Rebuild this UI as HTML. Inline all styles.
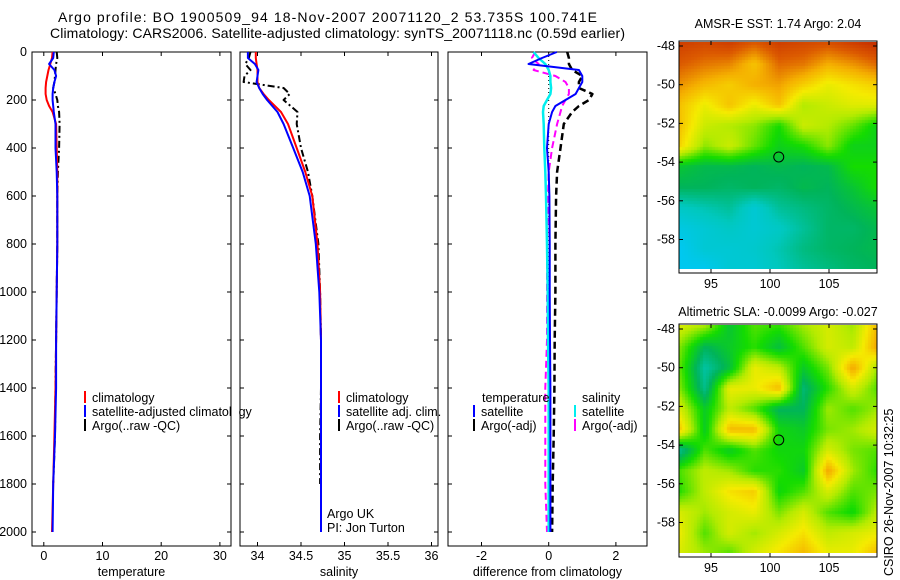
<!DOCTYPE html>
<html><head><meta charset="utf-8">
<style>
html,body{margin:0;padding:0;background:#fff;width:900px;height:580px;overflow:hidden}
svg{position:absolute;left:0;top:0}
canvas{position:absolute}
text{font-family:"Liberation Sans",sans-serif;font-size:12.5px;fill:#000}
</style></head>
<body>
<canvas id="map1" width="198" height="227" style="left:679px;top:42px"></canvas>
<canvas id="map2" width="198" height="228" style="left:679px;top:325px"></canvas>
<svg id="chart" width="900" height="580" xmlns="http://www.w3.org/2000/svg">
<text x="58" y="22" style="font-size:14px" textLength="539">Argo profile: BO 1900509_94 18-Nov-2007 20071120_2 53.735S 100.741E</text>
<text x="50" y="38" style="font-size:14px" textLength="575">Climatology: CARS2006. Satellite-adjusted climatology: synTS_20071118.nc (0.59d earlier)</text>
<text x="778" y="28" text-anchor="middle">AMSR-E SST: 1.74 Argo: 2.04</text>
<text x="778" y="316" text-anchor="middle">Altimetric SLA: -0.0099 Argo: -0.027</text>
<text transform="translate(893,576) rotate(-90)">CSIRO 26-Nov-2007 10:32:25</text>
<g id="g"></g>
</svg>
<script>
// ---- profile data ----
const depths=[0,25,50,75,100,125,150,175,200,225,250,300,400,500,600,800,1000,1200,1400,1600,1800,2000];
const tClim=[1.5,1.4,1.1,0.8,0.6,0.4,0.3,0.3,0.5,0.9,1.5,2.1,2.2,2.3,2.3,2.3,2.2,2.1,2.0,1.8,1.6,1.4];
const tSat=[1.7,1.6,0.9,1.8,2.1,1.8,1.6,1.5,1.5,1.6,1.7,2.0,2.0,2.2,2.3,2.3,2.2,2.1,2.1,1.9,1.6,1.5];
const tArgo=[2.2,2.3,2.1,2.0,1.9,1.8,1.6,2.0,2.3,2.4,2.6,2.7,2.6,2.4,2.3,2.3,2.2,2.1,2.0,1.9,1.6,1.4];
const sClim=[33.98,33.98,33.99,34.0,34.0,34.0,34.02,34.07,34.13,34.2,34.27,34.35,34.45,34.55,34.63,34.69,34.72,34.73,34.73,34.73,34.73,34.73];
const sSat=[33.89,33.89,33.97,34.01,34.0,33.99,34.02,34.06,34.11,34.17,34.23,34.3,34.41,34.52,34.6,34.67,34.71,34.73,34.73,34.73,34.73,34.73];
const sArgo=[33.92,33.9,33.86,33.92,33.85,33.84,34.3,34.37,34.3,34.38,34.46,34.45,34.5,34.58,34.63,34.7,34.72,34.73,34.73,34.72,34.72,34.72];
const dTsat=[0.24,-0.2,-0.6,0.9,1.0,1.0,0.9,0.8,0.5,0.2,0.1,0.0,-0.05,0.0,0.02,0.03,0.03,0.04,0.05,0.05,0.05,0.05];
const dTargo=[0.55,0.6,0.6,0.7,1.0,0.9,0.9,1.3,1.2,0.9,0.7,0.45,0.35,0.25,0.22,0.2,0.2,0.18,0.17,0.15,0.12,0.1];
const dSsat=[-0.45,-0.3,-0.1,0.0,0.05,0.05,0.07,0.05,-0.05,-0.15,-0.17,-0.15,-0.13,-0.1,-0.08,-0.05,-0.03,-0.02,0.0,0.0,0.0,0.0];
const dSargo=[-0.4,-0.5,-0.3,-0.45,0.2,0.5,0.6,0.6,0.5,0.4,0.35,0.25,0.1,0.0,-0.02,-0.05,-0.05,-0.05,-0.1,-0.1,-0.1,-0.05];
const depthTicks=[0,200,400,600,800,1000,1200,1400,1600,1800,2000];
const tTicks=[0,10,20,30];
const sTicks=[34,34.5,35,35.5,36];
const sTickLabels=["34","34.5","35","35.5","36"];
const dTicks=[-2,0,2];
// ---- map data (coarse grids, rows north->south, cols west->east) ----
const sstGrid=[
[0.91,0.90,0.91,0.88,0.91,0.90,0.89,0.91,0.93],
[0.88,0.86,0.85,0.80,0.87,0.86,0.82,0.84,0.87],
[0.84,0.81,0.79,0.82,0.83,0.79,0.75,0.77,0.79],
[0.80,0.75,0.80,0.75,0.80,0.70,0.72,0.74,0.74],
[0.80,0.72,0.70,0.68,0.62,0.72,0.70,0.66,0.60],
[0.78,0.68,0.72,0.66,0.60,0.62,0.68,0.60,0.60],
[0.58,0.56,0.56,0.55,0.56,0.55,0.56,0.62,0.62],
[0.55,0.55,0.54,0.55,0.54,0.56,0.55,0.58,0.62],
[0.46,0.48,0.50,0.44,0.50,0.52,0.54,0.56,0.58],
[0.42,0.44,0.46,0.44,0.46,0.50,0.54,0.54,0.56],
[0.40,0.44,0.44,0.45,0.48,0.52,0.54,0.55,0.56],
[0.40,0.40,0.44,0.44,0.47,0.50,0.52,0.54,0.55]];
const slaGrid=[
[0.73,0.69,0.58,0.65,0.63,0.69,0.73,0.69,0.81],
[0.67,0.55,0.59,0.63,0.57,0.65,0.73,0.71,0.83],
[0.65,0.49,0.57,0.75,0.71,0.59,0.67,0.83,0.69],
[0.67,0.51,0.75,0.75,0.81,0.53,0.63,0.73,0.65],
[0.73,0.59,0.71,0.65,0.55,0.55,0.69,0.65,0.69],
[0.79,0.59,0.81,0.81,0.61,0.59,0.67,0.69,0.73],
[0.51,0.65,0.59,0.65,0.61,0.61,0.73,0.67,0.65],
[0.65,0.71,0.69,0.63,0.63,0.59,0.83,0.69,0.63],
[0.63,0.71,0.77,0.79,0.61,0.65,0.73,0.65,0.67],
[0.73,0.69,0.73,0.75,0.67,0.73,0.65,0.61,0.71],
[0.75,0.65,0.73,0.69,0.73,0.77,0.71,0.73,0.75],
[0.73,0.69,0.65,0.73,0.77,0.81,0.75,0.75,0.81]];
const latTicks=[-48,-50,-52,-54,-56,-58];
const lonTicks=[95,100,105];
const argoLon=100.741, argoLat=-53.735;

const NS="http://www.w3.org/2000/svg";
const G=document.getElementById('g');
function el(tag,attrs,parent){const e=document.createElementNS(NS,tag);for(const k in attrs)e.setAttribute(k,attrs[k]);(parent||G).appendChild(e);return e;}
function txt(x,y,s,anchor,parent){const t=el('text',{x:x,y:y,'text-anchor':anchor||'start'},parent);t.textContent=s;return t;}

const yD=d=>52+0.24*d;
const panels=[
 {name:'temperature',x0:32,x1:231,sx:v=>43.8+5.87*v,ticks:tTicks,labels:tTicks.map(String),title:'temperature'},
 {name:'salinity',x0:240,x1:438,sx:v=>257.5+87*(v-34),ticks:sTicks,labels:sTickLabels,title:'salinity'},
 {name:'difference',x0:448,x1:647,sx:v=>548.7+33.6*v,ticks:dTicks,labels:dTicks.map(String),title:'difference from climatology'}];

function line(p,vals,color,w,dash,name,maxD){
  const pts=[];
  depths.forEach((d,i)=>{if(maxD===undefined||d<=maxD)pts.push(p.sx(vals[i]).toFixed(1)+','+yD(d).toFixed(1));});
  const a={points:pts.join(' '),fill:'none',stroke:color,'stroke-width':w,'stroke-linejoin':'round'};
  if(dash)a['stroke-dasharray']=dash;
  const e=el('polyline',a);
  
  
}

panels.forEach((p,pi)=>{
  const box=el('rect',{x:p.x0,y:52,width:p.x1-p.x0,height:494,fill:'#fff',stroke:'#000','stroke-width':1});
  
  
  depthTicks.forEach(d=>{
    el('line',{x1:p.x0,x2:p.x0+4,y1:yD(d),y2:yD(d),stroke:'#000'});
    el('line',{x1:p.x1-4,x2:p.x1,y1:yD(d),y2:yD(d),stroke:'#000'});
    if(pi===0){const t=txt(27,yD(d)+4,String(d),'end');
      
      }
  });
  p.ticks.forEach((v,i)=>{
    const x=p.sx(v);
    el('line',{x1:x,x2:x,y1:52,y2:56,stroke:'#000'});
    el('line',{x1:x,x2:x,y1:542,y2:546,stroke:'#000'});
    const t=txt(x,560,p.labels[i],'middle');
    
    
  });
  const at=txt((p.x0+p.x1)/2,576,p.title,'middle');
  
  
});
const [P1,P2,P3]=panels;
line(P1,tArgo,'#000',2,'7,3,2,3','temp-argo-line',1950);
line(P1,tClim,'#f00',2,null,'temp-climatology-line');
line(P1,tSat,'#00f',2,null,'temp-satellite-line');
line(P2,sArgo,'#000',2,'7,3,2,3','sal-argo-line',1950);
line(P2,sClim,'#f00',2,null,'sal-climatology-line');
line(P2,sSat,'#00f',2,null,'sal-satellite-line');
const z=el('line',{x1:P3.sx(0),x2:P3.sx(0),y1:yD(0),y2:yD(2000),stroke:'#000','stroke-width':1,'stroke-dasharray':'1,3'});


line(P3,dTargo,'#000',2.5,'7,4','diff-temp-argo-line');
line(P3,dSargo,'magenta',2,'7,4','diff-sal-argo-line');
line(P3,dSsat,'#0ee',2.5,null,'diff-sal-satellite-line');
line(P3,dTsat,'#00f',2,null,'diff-temp-satellite-line');

function legEntry(x,y,color,label,name){
  const g=el('g',{});
  
  
  el('line',{x1:x,x2:x,y1:y-11,y2:y+1,stroke:color,'stroke-width':2},g);
  txt(x+7,y,label,'start',g);
}
legEntry(85,402,'#f00','climatology','legend-climatology');
legEntry(85,416,'#00f','satellite-adjusted climatology','legend-satellite-adjusted');
legEntry(85,430,'#000','Argo(..raw -QC)','legend-argo-raw');
const cover=el('rect',{x:232,y:380,width:7,height:60,fill:'#fff'});


el('line',{x1:240,x2:240,y1:380,y2:440,stroke:'#000'});
legEntry(339,402,'#f00','climatology','legend2-climatology');
legEntry(339,416,'#00f','satellite adj. clim.','legend2-satellite');
legEntry(339,430,'#000','Argo(..raw -QC)','legend2-argo');
const lt=txt(482,402,'temperature');
const ls=txt(582,402,'salinity');
legEntry(474,416,'#00f','satellite','legend3-temp-satellite');
legEntry(474,430,'#000','Argo(-adj)','legend3-temp-argo');
legEntry(575,416,'#0ee','satellite','legend3-sal-satellite');
legEntry(575,430,'magenta','Argo(-adj)','legend3-sal-argo');
const a1=txt(327,518,'Argo UK');
const a2=txt(327,532,'PI: Jon Turton');

const stops=[[0.30,[0,170,255]],[0.40,[0,200,240]],[0.47,[0,200,190]],[0.55,[0,180,90]],[0.62,[20,220,0]],[0.70,[180,235,0]],[0.76,[245,235,0]],[0.82,[245,175,0]],[0.88,[220,90,0]],[0.95,[190,30,0]]];
function cmap(v){
  if(v<=stops[0][0])return stops[0][1];
  for(let i=1;i<stops.length;i++){if(v<=stops[i][0]){const [a,ca]=stops[i-1],[b,cb]=stops[i];const t=(v-a)/(b-a);return ca.map((c,k)=>Math.round(c+(cb[k]-c)*t));}}
  return stops[stops.length-1][1];
}
function drawMap(id,grid){
  const c=document.getElementById(id),ctx=c.getContext('2d');
  const W=c.width,H=c.height,R=grid.length,C=grid[0].length,cell=3;
  for(let y=0;y<H;y+=cell)for(let x=0;x<W;x+=cell){
    const gx=x/(W-1)*(C-1),gy=y/(H-1)*(R-1);
    const i=Math.min(Math.floor(gy),R-2),j=Math.min(Math.floor(gx),C-2);
    const fy=gy-i,fx=gx-j;
    const v=grid[i][j]*(1-fx)*(1-fy)+grid[i][j+1]*fx*(1-fy)+grid[i+1][j]*(1-fx)*fy+grid[i+1][j+1]*fx*fy;
    const col=cmap(v);ctx.fillStyle='rgb('+col.join(',')+')';ctx.fillRect(x,y,cell,cell);
  }
}
drawMap('map1',sstGrid);drawMap('map2',slaGrid);
function mapAxes(top,bottom,lat48,name){
  const lonX=l=>770+11.8*(l-100), latY=l=>lat48+19.35*(-48-l);
  const b=el('rect',{x:679,y:top,width:198,height:bottom-top,fill:'none',stroke:'#000'});
  
  
  latTicks.forEach(l=>{const y=latY(l);
    el('line',{x1:679,x2:683,y1:y,y2:y,stroke:'#000'});el('line',{x1:873,x2:877,y1:y,y2:y,stroke:'#000'});
    const t=txt(675,y+4,String(l),'end');});
  lonTicks.forEach(l=>{const x=lonX(l);
    el('line',{x1:x,x2:x,y1:top,y2:top+4,stroke:'#000'});el('line',{x1:x,x2:x,y1:bottom-4,y2:bottom,stroke:'#000'});
    const t=txt(x,bottom+15,String(l),'middle');});
  const m=el('circle',{cx:lonX(argoLon),cy:latY(argoLat),r:5,fill:'none',stroke:'#000','stroke-width':1});
  
  
}
mapAxes(41,273,46,'sst-map');
mapAxes(324,557,329,'sla-map');
</script>
</body></html>
